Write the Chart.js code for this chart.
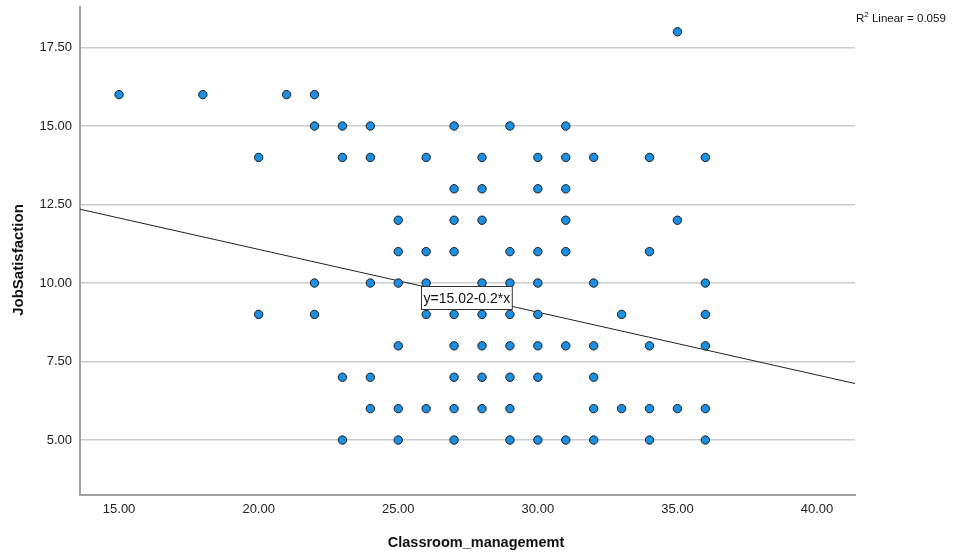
<!DOCTYPE html>
<html>
<head>
<meta charset="utf-8">
<script src="https://cdn.jsdelivr.net/npm/chart.js@4.4.1/dist/chart.umd.min.js"></script>
<style>
  html, body { margin: 0; padding: 0; background: #ffffff; }
  #wrap { width: 954px; height: 556px; position: relative; }
</style>
</head>
<body>
<div id="wrap"><canvas id="c" width="954" height="556"></canvas></div>
<script>
// ---- Data (x = Classroom_managememt, grouped by JobSatisfaction level) ----
const satLevels = [18, 16, 15, 14, 13, 12, 11, 10, 9, 8, 7, 6, 5];
const xAt18 = [35];
const xAt16 = [15, 18, 21, 22];
const xAt15 = [22, 23, 24, 27, 29, 31];
const xAt14 = [20, 23, 24, 26, 28, 30, 31, 32, 34, 36];
const xAt13 = [27, 28, 30, 31];
const xAt12 = [25, 27, 28, 31, 35];
const xAt11 = [25, 26, 27, 29, 30, 31, 34];
const xAt10 = [22, 24, 25, 26, 28, 29, 30, 32, 36];
const xAt9  = [20, 22, 26, 27, 28, 29, 30, 33, 36];
const xAt8  = [25, 27, 28, 29, 30, 31, 32, 34, 36];
const xAt7  = [23, 24, 27, 28, 29, 30, 32];
const xAt6  = [24, 25, 26, 27, 28, 29, 32, 33, 34, 35, 36];
const xAt5  = [23, 25, 27, 29, 30, 31, 32, 34, 36];
const xByLevel = [xAt18, xAt16, xAt15, xAt14, xAt13, xAt12, xAt11, xAt10, xAt9, xAt8, xAt7, xAt6, xAt5];

// Fit line endpoints (at the plot edges)
const fitX = [13.6, 41.36];
const fitY = [12.35, 6.8];
const fitLabel = 'y=15.02-0.2*x';
const fitLabelAt = [27.45, 9.54];
const r2Value = '0.059';

const xTicks = [15, 20, 25, 30, 35, 40];
const yTicks = [5, 7.5, 10, 12.5, 15, 17.5];
const xRange = [13.6, 41.36];
const yRange = [3.25, 18.79];

const xTitle = 'Classroom_managememt';
const yTitle = 'JobSatisfaction';

// ---- Build datasets ----
const points = [];
satLevels.forEach((lvl, i) => xByLevel[i].forEach(x => points.push({ x: x, y: lvl })));
const fitPoints = fitX.map((x, i) => ({ x: x, y: fitY[i] }));

const FONT = '"Liberation Sans", Arial, sans-serif';

const annotPlugin = {
  id: 'annot',
  afterDatasetsDraw(chart) {
    const { ctx, scales } = chart;
    // equation label box
    ctx.save();
    ctx.font = '14px ' + FONT;
    const tw = ctx.measureText(fitLabel).width;
    const cx = scales.x.getPixelForValue(fitLabelAt[0]);
    const cy = scales.y.getPixelForValue(fitLabelAt[1]);
    const bw = tw + 4, bh = 23;
    const bx = Math.round(cx - bw / 2) + 0.5, by = Math.round(cy - bh / 2) + 0.5;
    ctx.fillStyle = '#ffffff';
    ctx.fillRect(bx, by, bw, bh);
    ctx.strokeStyle = '#333333';
    ctx.lineWidth = 1;
    ctx.strokeRect(bx, by, bw, bh);
    ctx.fillStyle = '#111111';
    ctx.textBaseline = 'middle';
    ctx.textAlign = 'center';
    ctx.fillText(fitLabel, bx + bw / 2, by + bh / 2 + 1);
    ctx.restore();
  },
  afterDraw(chart) {
    const { ctx } = chart;
    ctx.save();
    ctx.fillStyle = '#111111';
    ctx.textBaseline = 'alphabetic';
    ctx.textAlign = 'left';
    let x = 856;
    const base = 22;
    ctx.font = '11.5px ' + FONT;
    ctx.fillText('R', x, base);
    x += ctx.measureText('R').width;
    ctx.font = '8px ' + FONT;
    ctx.fillText('2', x, base - 5);
    x += ctx.measureText('2').width;
    ctx.font = '11.5px ' + FONT;
    ctx.fillText(' Linear = ' + r2Value, x, base);

    // axis titles
    ctx.font = 'bold 14.5px ' + FONT;
    ctx.textAlign = 'center';
    ctx.textBaseline = 'middle';
    ctx.fillText(xTitle, 476, 543);
    ctx.translate(19, 260);
    ctx.rotate(-Math.PI / 2);
    ctx.font = 'bold 15px ' + FONT;
    ctx.fillText(yTitle, 0, 0);
    ctx.restore();
  }
};

new Chart(document.getElementById('c'), {
  type: 'scatter',
  data: {
    datasets: [
      {
        label: 'Observed',
        data: points,
        backgroundColor: '#1a8fe3',
        borderColor: '#1c1c1c',
        borderWidth: 1,
        pointRadius: 4.2,
        pointHoverRadius: 4.2,
        order: 1
      },
      {
        type: 'line',
        label: 'Linear',
        data: fitPoints,
        borderColor: '#222222',
        borderWidth: 1,
        pointRadius: 0,
        fill: false,
        order: 2
      }
    ]
  },
  options: {
    responsive: false,
    animation: false,
    events: [],
    layout: { padding: { left: 0, right: 99, top: 7, bottom: 0 } },
    plugins: {
      legend: { display: false },
      tooltip: { enabled: false }
    },
    scales: {
      x: {
        type: 'linear',
        min: xRange[0],
        max: xRange[1],
        afterBuildTicks: s => { s.ticks = xTicks.map(v => ({ value: v })); },
        afterFit: s => { s.height = 61; s.paddingLeft = 0; s.paddingRight = 0; },
        grid: { display: false, drawTicks: false },
        border: { display: true, color: '#a0a0a0', width: 2 },
        ticks: {
          padding: 7,
          color: '#222222',
          font: { family: FONT, size: 13 },
          maxRotation: 0,
          callback: v => Number(v).toFixed(2)
        },
        title: { display: false, text: xTitle }
      },
      y: {
        type: 'linear',
        min: yRange[0],
        max: yRange[1],
        afterBuildTicks: s => { s.ticks = yTicks.map(v => ({ value: v })); },
        afterFit: s => { s.width = 80; s.paddingTop = 0; s.paddingBottom = 0; },
        grid: { display: true, drawTicks: false, color: '#cccccc', lineWidth: 1.5 },
        border: { display: true, color: '#a0a0a0', width: 2 },
        ticks: {
          padding: 8,
          color: '#222222',
          font: { family: FONT, size: 13 },
          callback: v => Number(v).toFixed(2)
        },
        title: { display: false, text: yTitle }
      }
    }
  },
  plugins: [annotPlugin]
});
</script>
</body>
</html>
